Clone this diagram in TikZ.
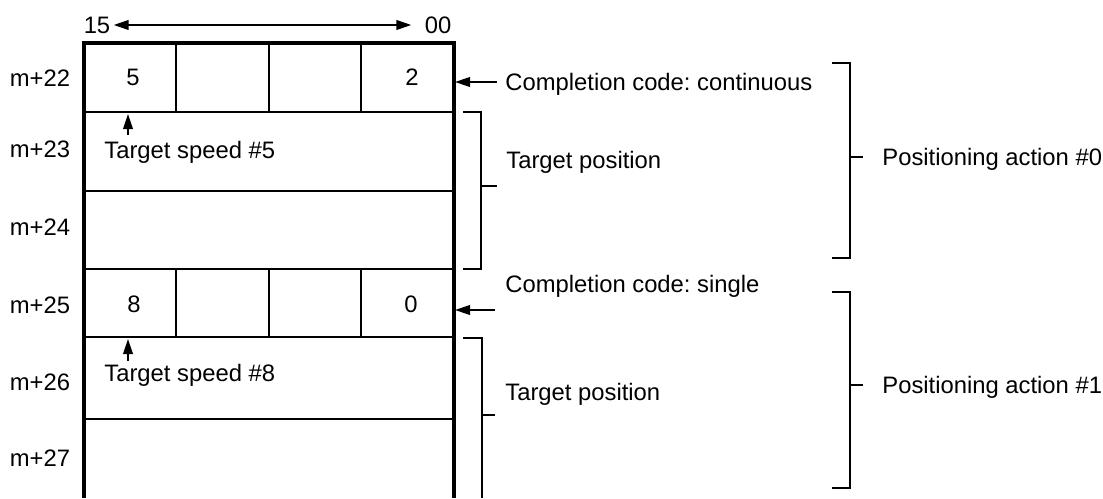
\documentclass[tikz,border=0pt]{standalone}
\usepackage{fontspec}
\setmainfont{Liberation Sans}
\usetikzlibrary{arrows.meta,positioning}
\frenchspacing

\begin{document}
\begin{tikzpicture}[x=0.5pt, y=-0.5pt,
  every node/.style={font=\fontsize{11.9}{14}\selectfont, inner sep=0pt, text height=8.5pt, text depth=0pt},
  lbl/.style={anchor=west},
  tip/.style={Triangle[length=7.5pt,width=4.8pt]},
  ptr/.style={-{Triangle[length=7.5pt,width=4.8pt]}, line width=1pt},
  brk/.style={line width=1.1pt},
  outer/.style={line width=1.6pt},
  sep/.style={line width=1.2pt},
  thin/.style={line width=0.9pt}]
\useasboundingbox (0,0) rectangle (1103,498);
% bit numbering
\node (b15) at (97,25) {15};
\node (b00) at (438,25) {00};
\draw[{Triangle[length=7.5pt,width=4.8pt]}-{Triangle[length=7.5pt,width=4.8pt]}, line width=1pt,
  shorten <=1.5pt, shorten >=6.5pt] (b15) -- (b00);
% table
\draw[outer] (84,498) -- (84,43) -- (454,43) -- (454,498);
\draw[sep] (84,112) -- (454,112);
\draw[thin] (84,191) -- (454,191);
\draw[sep] (84,269) -- (454,269);
\draw[sep] (84,337) -- (454,337);
\draw[thin] (84,419) -- (454,419);
\foreach \x in {176,269,361} {
  \draw[sep] (\x,43) -- (\x,112);
  \draw[sep] (\x,269) -- (\x,337);
}
% word addresses
\node (r22) at (40,78) {m+22};
\node (r23) at (40,149) {m+23};
\node (r24) at (40,227) {m+24};
\node (r25) at (40,305) {m+25};
\node (r26) at (40,382) {m+26};
\node (r27) at (40,458) {m+27};
% digits
\node (d5) at (133,77) {5};
\node (d2) at (412,77) {2};
\node (d8) at (134,304) {8};
\node (d0) at (411,304) {0};
% target speeds
\coordinate (s22) at (128,114);
\coordinate (s25) at (128,339);
\node[lbl] (ts5) at (104,150) {Target speed \#5};
\node[lbl] (ts8) at (104,373) {Target speed \#8};
\draw[ptr] ([yshift=3pt]ts5.north -| s22) -- (s22);
\draw[ptr] ([yshift=1.5pt]ts8.north -| s25) -- (s25);
% completion codes
\coordinate (e22) at (455,82);
\coordinate (e25) at (455,310);
\node[lbl] (cc0) at (505,82) {Completion code: continuous};
\node[lbl] (cc1) at (505,284) {Completion code: single};
\draw[ptr] ([xshift=-4pt]cc0.west) -- (e22);
\draw[ptr] ([xshift=-5pt]cc1.west |- e25) -- (e25);
% target positions
\node[lbl] (tp0) at (506,160) {Target position};
\node[lbl] (tp1) at (505,392) {Target position};
\draw[brk] (463,112) -- (481,112) -- (481,269) -- (463,269);
\draw[brk] (481,186) -- (497,186);
\draw[brk] (463,338) -- (482,338) -- (482,498);
\draw[brk] (482,415) -- (495,415);
% positioning actions
\node[lbl] (pa0) at (882,157) {Positioning action \#0};
\node[lbl] (pa1) at (882,385) {Positioning action \#1};
\draw[brk] (832,63) -- (850,63) -- (850,258) -- (832,258);
\draw[brk] (850,157) -- (863,157);
\draw[brk] (832,292) -- (850,292) -- (850,488) -- (832,488);
\draw[brk] (850,385) -- (863,385);
\end{tikzpicture}
\end{document}
